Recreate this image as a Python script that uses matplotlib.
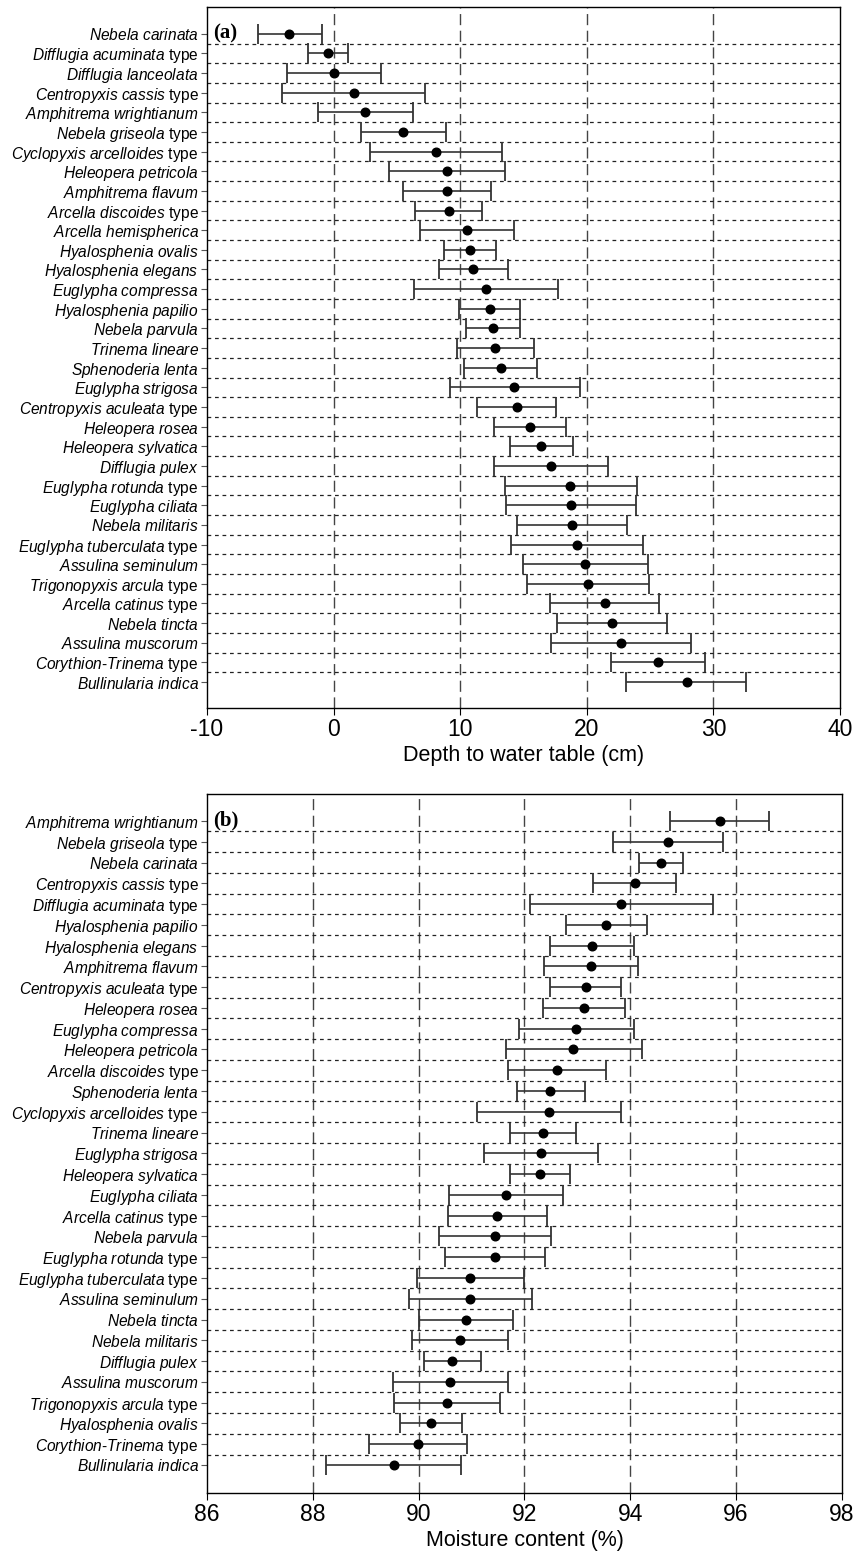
import numpy as np
import matplotlib
matplotlib.use("Agg")
import matplotlib.pyplot as plt

plt.rcParams['font.family'] = ['Liberation Sans', 'DejaVu Sans']
plt.rcParams['mathtext.fontset'] = 'custom'
plt.rcParams['mathtext.it'] = 'Liberation Sans:italic'
plt.rcParams['mathtext.rm'] = 'Liberation Sans'
plt.rcParams['axes.unicode_minus'] = False

## (a) depth to water table: taxon, suffix, lower, optimum, upper
taxa_a = ["Nebela carinata", "Difflugia acuminata", "Difflugia lanceolata", "Centropyxis cassis",
          "Amphitrema wrightianum", "Nebela griseola", "Cyclopyxis arcelloides", "Heleopera petricola",
          "Amphitrema flavum", "Arcella discoides", "Arcella hemispherica", "Hyalosphenia ovalis",
          "Hyalosphenia elegans", "Euglypha compressa", "Hyalosphenia papilio", "Nebela parvula",
          "Trinema lineare", "Sphenoderia lenta", "Euglypha strigosa", "Centropyxis aculeata",
          "Heleopera rosea", "Heleopera sylvatica", "Difflugia pulex", "Euglypha rotunda",
          "Euglypha ciliata", "Nebela militaris", "Euglypha tuberculata", "Assulina seminulum",
          "Trigonopyxis arcula", "Arcella catinus", "Nebela tincta", "Assulina muscorum",
          "Corythion-Trinema", "Bullinularia indica"]
suffix_a = ["", "type", "", "type", "", "type", "type", "", "", "type", "", "", "", "", "", "",
            "", "", "", "type", "", "", "", "type", "", "", "type", "", "type", "type", "", "",
            "type", ""]
opt_a = [-3.5, -0.45, 0.0, 1.6, 2.5, 5.5, 8.1, 8.95, 8.97, 9.1, 10.5, 10.75, 11.0, 12.0, 12.35,
         12.6, 12.75, 13.2, 14.25, 14.5, 15.5, 16.4, 17.2, 18.7, 18.75, 18.85, 19.2, 19.85, 20.1,
         21.4, 22.0, 22.7, 25.6, 27.9]
lo_a = [-6.0, -2.0, -3.7, -4.1, -1.25, 2.15, 2.9, 4.4, 5.5, 6.4, 6.8, 8.7, 8.3, 6.35, 9.9, 10.45,
        9.75, 10.3, 9.2, 11.35, 12.7, 13.9, 12.7, 13.5, 13.6, 14.5, 14.0, 15.0, 15.25, 17.1, 17.65,
        17.15, 21.9, 23.1]
hi_a = [-0.95, 1.15, 3.75, 7.25, 6.25, 8.85, 13.3, 13.5, 12.4, 11.75, 14.25, 12.8, 13.8, 17.7,
        14.75, 14.75, 15.8, 16.1, 19.45, 17.6, 18.35, 18.9, 21.65, 23.95, 23.85, 23.15, 24.45,
        24.8, 24.95, 25.7, 26.35, 28.2, 29.35, 32.6]

## (b) moisture content
taxa_b = ["Amphitrema wrightianum", "Nebela griseola", "Nebela carinata", "Centropyxis cassis",
          "Difflugia acuminata", "Hyalosphenia papilio", "Hyalosphenia elegans", "Amphitrema flavum",
          "Centropyxis aculeata", "Heleopera rosea", "Euglypha compressa", "Heleopera petricola",
          "Arcella discoides", "Sphenoderia lenta", "Cyclopyxis arcelloides", "Trinema lineare",
          "Euglypha strigosa", "Heleopera sylvatica", "Euglypha ciliata", "Arcella catinus",
          "Nebela parvula", "Euglypha rotunda", "Euglypha tuberculata", "Assulina seminulum",
          "Nebela tincta", "Nebela militaris", "Difflugia pulex", "Assulina muscorum",
          "Trigonopyxis arcula", "Hyalosphenia ovalis", "Corythion-Trinema", "Bullinularia indica"]
suffix_b = ["", "type", "", "type", "type", "", "", "", "type", "", "", "", "type", "", "type", "",
            "", "", "", "type", "", "type", "type", "", "", "", "", "", "type", "", "type", ""]
opt_b = [95.7, 94.72, 94.59, 94.08, 93.83, 93.54, 93.27, 93.26, 93.16, 93.12, 92.98, 92.92, 92.62,
         92.49, 92.46, 92.35, 92.31, 92.29, 91.66, 91.49, 91.44, 91.44, 90.98, 90.98, 90.9, 90.79,
         90.64, 90.6, 90.54, 90.23, 89.99, 89.53]
lo_b = [94.76, 93.68, 94.17, 93.3, 92.1, 92.78, 92.49, 92.37, 92.49, 92.36, 91.89, 91.65, 91.68,
        91.85, 91.1, 91.72, 91.23, 91.72, 90.58, 90.56, 90.38, 90.5, 89.96, 89.82, 90.0, 89.88,
        90.1, 89.52, 89.54, 89.64, 89.07, 88.24]
hi_b = [96.63, 95.76, 95.0, 94.86, 95.56, 94.31, 94.07, 94.15, 93.83, 93.9, 94.07, 94.22, 93.55,
        93.15, 93.83, 92.97, 93.39, 92.87, 92.73, 92.42, 92.51, 92.38, 92.0, 92.14, 91.79, 91.69,
        91.18, 91.69, 91.54, 90.82, 90.91, 90.81]


def make_label(name, suf):
    parts = name.split("-")
    txt = "-".join(r"$\mathit{" + p.replace(" ", r"\ ") + "}$" for p in parts)
    if suf:
        txt += " " + suf
    return txt


def panel(ax, taxa, suffix, opt, lo, hi, xlim, xticks, vlines, ylim, xlabel, tag):
    rows = np.arange(len(taxa))
    opt = np.array(opt)
    err = [opt - np.array(lo), np.array(hi) - opt]
    for v in vlines:
        ax.axvline(v, color='#444444', lw=1.0, ls=(0, (8, 4)), zorder=1)
    for r in rows[:-1]:
        ax.axhline(r + 0.5, color='#222222', lw=0.9, ls=(0, (3, 3)), zorder=1)
    ax.errorbar(opt, rows, xerr=err, fmt='o', color='k', ecolor='#333333', elinewidth=1.2,
                capsize=7, capthick=1.3, markersize=6.2, zorder=3)
    ax.set_xlim(*xlim)
    ax.set_ylim(*ylim)
    ax.set_xticks(xticks)
    ax.set_xticklabels([str(t) for t in xticks], fontsize=16.5)
    ax.set_yticks(rows)
    ax.set_yticklabels([make_label(n, s) for n, s in zip(taxa, suffix)], fontsize=11.2)
    ax.tick_params(axis='y', length=4, color='#555555', pad=2)
    ax.tick_params(axis='x', length=5, pad=2)
    ax.set_xlabel(xlabel, fontsize=15.5, labelpad=3)
    ax.text(0.01, 1 - 0.038, tag, transform=ax.transAxes, fontsize=15, fontweight='bold',
            family='Liberation Serif', va='center', ha='left')
    for s in ax.spines.values():
        s.set_linewidth(1.0)


fig = plt.figure(figsize=(8.65, 15.58), dpi=100)
ax1 = fig.add_axes([0.2393, 0.5456, 0.7318, 0.45])
ax2 = fig.add_axes([0.2393, 0.0417, 0.734, 0.4487])

panel(ax1, taxa_a, suffix_a, opt_a, lo_a, hi_a, (-10, 40), [-10, 0, 10, 20, 30, 40],
      [0, 10, 20, 30], (34.32, -1.37), "Depth to water table (cm)", "(a)")
panel(ax2, taxa_b, suffix_b, opt_b, lo_b, hi_b, (86, 98), [86, 88, 90, 92, 94, 96, 98],
      [88, 90, 92, 94, 96], (32.35, -1.3), "Moisture content (%)", "(b)")

fig.savefig("out.png", dpi=100)
